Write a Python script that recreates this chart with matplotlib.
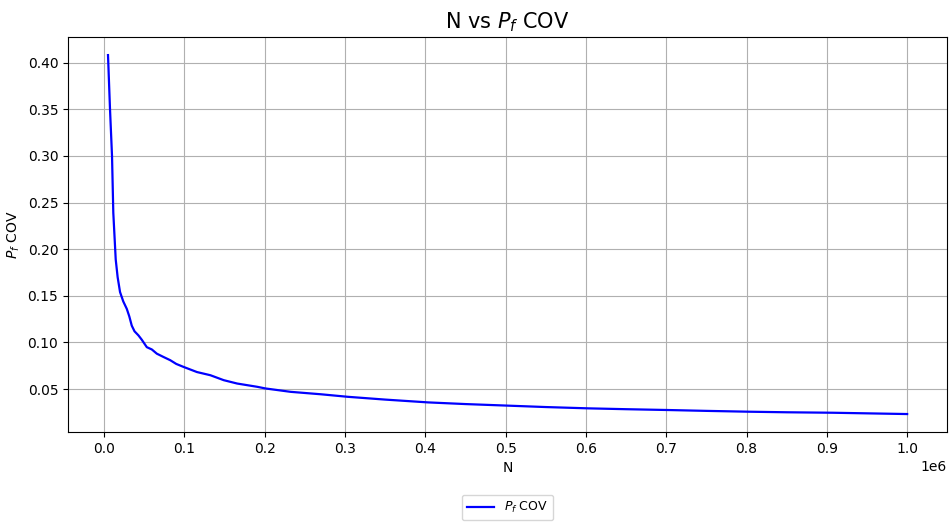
import numpy as np
import matplotlib
matplotlib.use('Agg')
import matplotlib.pyplot as plt

# sample sizes and coefficient of variation of Pf
N = [5000, 7500, 10000, 11600, 14600, 17000, 20000, 24000, 28400, 31500, 34600,
     38000, 42900, 47000, 53300, 59600, 65800, 74000, 82500, 90000, 99100,
     115800, 132500, 149100, 165800, 190800, 201250, 232500, 270000, 303300,
     350000, 403300, 450000, 503300, 550000, 603300, 650000, 703300, 750000,
     803300, 850000, 907500, 1000000]
pf_cov = [0.408, 0.350, 0.300, 0.239, 0.189, 0.170, 0.154, 0.144, 0.136, 0.128,
          0.118, 0.112, 0.1076, 0.103, 0.095, 0.0925, 0.088, 0.0845, 0.081,
          0.077, 0.0738, 0.0683, 0.0649, 0.0596, 0.056, 0.0525, 0.0507, 0.0471,
          0.0445, 0.0418, 0.0388, 0.0358, 0.0340, 0.0323, 0.0308, 0.0294,
          0.0285, 0.0276, 0.0267, 0.0258, 0.0252, 0.0247, 0.0233]

fig = plt.figure(figsize=(9.49, 5.23), dpi=100)
ax = fig.add_axes([0.0717, 0.174, 0.9263, 0.755])

ax.plot(N, pf_cov, color='blue', linewidth=1.6, label='$P_f$ COV')
ax.set_xticks(np.arange(0, 1.01e6, 1e5))
ax.grid(True)
ax.set_xlabel('N')
ax.set_ylabel('$P_f$ COV')
ax.set_title('N vs $P_f$ COV', fontsize=15)
ax.legend(loc='upper center', bbox_to_anchor=(0.5, -0.15), fontsize=9,
          handlelength=2.2, borderaxespad=0.3)

fig.savefig('out.png', dpi=100)
